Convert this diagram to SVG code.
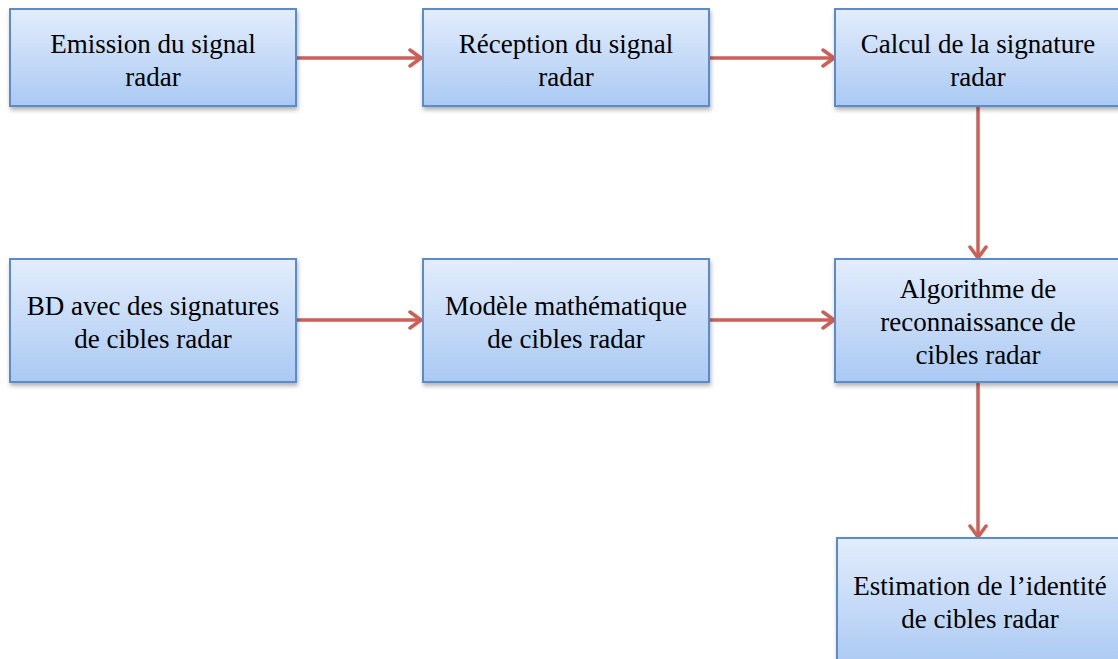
<svg xmlns="http://www.w3.org/2000/svg" width="1118" height="659" viewBox="0 0 1118 659">
<style>
.box{fill:url(#g);stroke:#5a8ccb;stroke-width:2;filter:url(#sh)}
.t{font-family:"Liberation Serif","Times New Roman",serif;font-size:27px;fill:#000;text-anchor:middle}
.c{stroke:#cd5f57;stroke-width:3.5;fill:none;marker-end:url(#ah)}
</style>
<defs>
<linearGradient id="g" x1="0" y1="0" x2="0" y2="1">
<stop offset="0" stop-color="#e3edfc"/>
<stop offset="1" stop-color="#aac9f3"/>
</linearGradient>
<filter id="sh" x="-10%" y="-10%" width="130%" height="140%">
<feDropShadow dx="1" dy="3" stdDeviation="2" flood-color="#000" flood-opacity="0.3"/>
</filter>
<marker id="ah" markerUnits="userSpaceOnUse" viewBox="0 0 16 20" refX="14" refY="10" markerWidth="16" markerHeight="20" orient="auto">
<path d="M3,2 L14,10 L3,18" fill="none" stroke="#cd5f57" stroke-width="3.5" stroke-linecap="round" stroke-linejoin="round"/>
</marker>
</defs>
<g id="connectors">
<line class="c" x1="296" y1="58" x2="421" y2="58"/>
<line class="c" x1="709" y1="58" x2="834" y2="58"/>
<line class="c" x1="296" y1="320" x2="421" y2="320"/>
<line class="c" x1="709" y1="320" x2="834" y2="320"/>
<line class="c" x1="978" y1="106" x2="978" y2="258"/>
<line class="c" x1="978" y1="382" x2="978" y2="537"/>
</g>
<g id="n1"><rect class="box" x="10" y="9" width="286" height="97"/>
<text class="t" x="153" y="53">Emission du signal</text><text class="t" x="153" y="86">radar</text></g>
<g id="n2"><rect class="box" x="423" y="9" width="286" height="97"/>
<text class="t" x="566" y="53">Réception du signal</text><text class="t" x="566" y="86">radar</text></g>
<g id="n3"><rect class="box" x="835" y="9" width="286" height="97"/>
<text class="t" x="978" y="53">Calcul de la signature</text><text class="t" x="978" y="86">radar</text></g>
<g id="n4"><rect class="box" x="10" y="259" width="286" height="123"/>
<text class="t" x="153" y="315">BD avec des signatures</text><text class="t" x="153" y="348">de cibles radar</text></g>
<g id="n5"><rect class="box" x="423" y="259" width="286" height="123"/>
<text class="t" x="566" y="315">Modèle mathématique</text><text class="t" x="566" y="348">de cibles radar</text></g>
<g id="n6"><rect class="box" x="835" y="259" width="286" height="123"/>
<text class="t" x="978" y="298">Algorithme de</text><text class="t" x="978" y="331">reconnaissance de</text><text class="t" x="978" y="364">cibles radar</text></g>
<g id="n7"><rect class="box" x="837" y="538" width="286" height="130"/>
<text class="t" x="980" y="595">Estimation de l’identité</text><text class="t" x="980" y="628">de cibles radar</text></g>
</svg>
